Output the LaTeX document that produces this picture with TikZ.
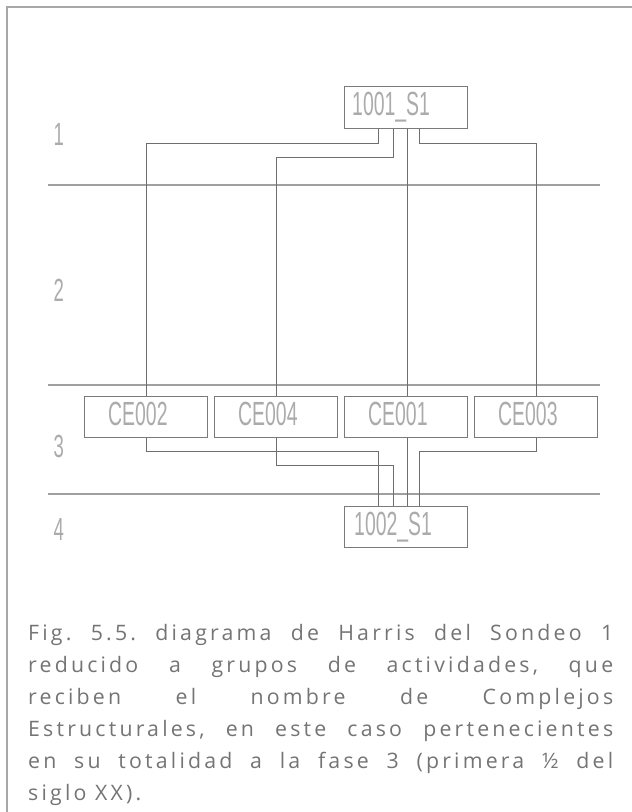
\documentclass[tikz,border=0pt]{standalone}
\usepackage{fontspec}
\newfontfamily\capfont[LetterSpace=15]{Open Sans}
\newfontfamily\cadfont[FakeStretch=0.58]{Liberation Sans}
\definecolor{framegray}{HTML}{A8A8A8}
\definecolor{sectgray}{HTML}{A0A0A0}
\definecolor{conngray}{HTML}{6E6E6E}
\definecolor{boxgray}{HTML}{7A7A7A}
\definecolor{cadtext}{HTML}{ABABAB}
\definecolor{captext}{HTML}{747474}
\tikzset{
  cebox/.style={draw=boxgray, line width=0.9pt, minimum width=123pt, minimum height=41pt, inner sep=0pt, anchor=north west},
  sbox/.style={cebox, minimum height=42pt},
  cadlbl/.style={font=\cadfont\fontsize{33.5}{33.5}\selectfont, text=cadtext, inner sep=0pt, anchor=base west},
  seclbl/.style={font=\cadfont\fontsize{32}{32}\selectfont, text=cadtext, inner sep=0pt, anchor=base west},
  conn/.style={draw=conngray, line width=0.8pt},
  sect/.style={draw=sectgray, line width=1.1pt},
  framel/.style={draw=framegray, line width=2pt}
}
\begin{document}
\begin{tikzpicture}[x=1pt,y=-1pt]
\useasboundingbox (0,0) rectangle (632,812);
% frame
\draw[framel] (7,812) -- (7,7) -- (632,7);
% section lines
\draw[sect] (48,185) -- (600,185);
\draw[sect] (48,385) -- (600,385);
\draw[sect] (48,494) -- (600,494);
% section numbers
\node[seclbl] (n1) at (53.5,145) {1};
\node[seclbl] (n2) at (53.5,301) {2};
\node[seclbl] (n3) at (53.5,457) {3};
\node[seclbl] (n4) at (53.5,540) {4};
% boxes
\node[sbox] (s1a) at (344,86) {};
\node[cebox] (ce2) at (84,396) {};
\node[cebox] (ce4) at (214,396) {};
\node[cebox] (ce1) at (344,396) {};
\node[cebox] (ce3) at (474,396) {};
\node[cebox] (s1b) at (344,506) {};
% labels
\node[cadlbl] (t1a) at ([xshift=8pt,yshift=13pt]s1a.south west) {1001\_S1};
\node[cadlbl] (t2) at ([xshift=24pt,yshift=12pt]ce2.south west) {CE002};
\node[cadlbl] (t4) at ([xshift=24pt,yshift=12pt]ce4.south west) {CE004};
\node[cadlbl] (t1) at ([xshift=24pt,yshift=12pt]ce1.south west) {CE001};
\node[cadlbl] (t3) at ([xshift=24pt,yshift=12pt]ce3.south west) {CE003};
\node[cadlbl] (t1b) at ([xshift=10pt,yshift=12pt]s1b.south west) {1002\_S1};
% connectors from 1001_S1
\draw[conn] ([xshift=-27.5pt]s1a.south) -- ++(0,14) -| (ce2.north);
\draw[conn] ([xshift=-12.5pt]s1a.south) -- ++(0,28) -| (ce4.north);
\draw[conn] ([xshift=1.5pt]s1a.south) -- ([xshift=1.5pt]ce1.north);
\draw[conn] ([xshift=13.5pt]s1a.south) -- ++(0,14) -| (ce3.north);
% connectors to 1002_S1
\draw[conn] (ce2.south) -- ++(0,13) -| ([xshift=-27.5pt]s1b.north);
\draw[conn] (ce4.south) -- ++(0,27) -| ([xshift=-12.5pt]s1b.north);
\draw[conn] ([xshift=1.5pt]ce1.south) -- ([xshift=1.5pt]s1b.north);
\draw[conn] (ce3.south) -- ++(0,13) -| ([xshift=13.5pt]s1b.north);
% caption
\node[anchor=base west, inner sep=0pt, text=captext] (cap) at (28,640)
  {\parbox[t]{585pt}{\capfont\fontsize{21.3}{32}\selectfont\parindent=0pt\frenchspacing
  Fig. 5.5. diagrama de Harris del Sondeo 1\linebreak
  reducido a grupos de actividades, que\linebreak
  reciben el nombre de Complejos\linebreak
  Estructurales, en este caso pertenecientes\linebreak
  en su totalidad a la fase 3 (primera ½ del\linebreak
  siglo XX).}};
\end{tikzpicture}
\end{document}
